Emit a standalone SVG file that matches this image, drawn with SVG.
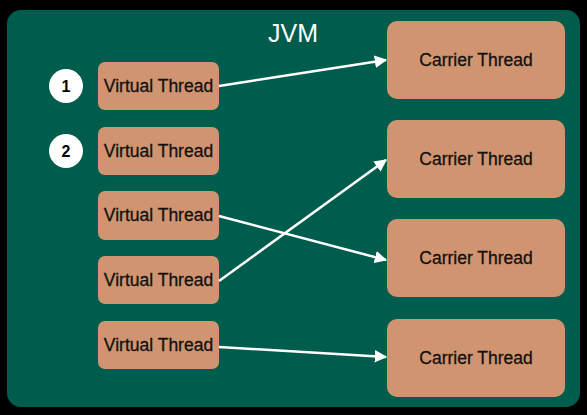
<svg xmlns="http://www.w3.org/2000/svg" width="587" height="415" viewBox="0 0 587 415">
<style>
.vt{fill:#d09570;stroke:none}
.ct{fill:#d09570;stroke:none}
.t{font-family:"Liberation Sans",Arial,sans-serif;font-size:17.5px;fill:#111;stroke:#111;stroke-width:0.3;text-anchor:middle;dominant-baseline:central}
.num{font-family:"Liberation Sans",Arial,sans-serif;font-size:16px;fill:#000;text-anchor:middle;dominant-baseline:central;font-weight:bold}
.c{stroke:#fff;stroke-width:2.5;fill:none;marker-end:url(#ah)}
</style>
<defs>
<marker id="ah" viewBox="0 0 10 10" refX="9" refY="5" markerWidth="5" markerHeight="5" orient="auto" markerUnits="strokeWidth">
<path d="M0,0 L10,5 L0,10 z" fill="#fff"/>
</marker>
</defs>
<rect x="0" y="0" width="587" height="415" fill="#000"/>
<g id="jvm">
<rect x="7" y="10" width="573" height="397" rx="14" fill="#005c4c"/>
<text x="293" y="33" font-family="Liberation Sans,Arial,sans-serif" font-size="25" fill="#fff" text-anchor="middle" dominant-baseline="central">JVM</text>
</g>
<g id="n1"><circle cx="66" cy="86" r="17" fill="#fff"/><text class="num" x="66" y="86">1</text></g>
<g id="n2"><circle cx="66" cy="151" r="17" fill="#fff"/><text class="num" x="66" y="151">2</text></g>
<g id="vt1"><rect class="vt" x="98" y="62" width="121" height="48" rx="7"/><text class="t" x="158.5" y="86">Virtual Thread</text></g>
<g id="vt2"><rect class="vt" x="98" y="127" width="121" height="48" rx="7"/><text class="t" x="158.5" y="151">Virtual Thread</text></g>
<g id="vt3"><rect class="vt" x="98" y="191" width="121" height="49" rx="7"/><text class="t" x="158.5" y="215">Virtual Thread</text></g>
<g id="vt4"><rect class="vt" x="98" y="256" width="121" height="48" rx="7"/><text class="t" x="158.5" y="280">Virtual Thread</text></g>
<g id="vt5"><rect class="vt" x="98" y="321" width="121" height="48" rx="7"/><text class="t" x="158.5" y="345">Virtual Thread</text></g>
<g id="ct1"><rect class="ct" x="387" y="21" width="178" height="78" rx="10"/><text class="t" x="476" y="60">Carrier Thread</text></g>
<g id="ct2"><rect class="ct" x="387" y="120" width="178" height="78" rx="10"/><text class="t" x="476" y="159">Carrier Thread</text></g>
<g id="ct3"><rect class="ct" x="387" y="219" width="178" height="78" rx="10"/><text class="t" x="476" y="258">Carrier Thread</text></g>
<g id="ct4"><rect class="ct" x="387" y="319" width="178" height="78" rx="10"/><text class="t" x="476" y="358">Carrier Thread</text></g>
<g id="connectors">
<line class="c" x1="219" y1="86" x2="386" y2="60"/>
<line class="c" x1="219" y1="216" x2="386" y2="260"/>
<line class="c" x1="219" y1="281" x2="386" y2="160"/>
<line class="c" x1="219" y1="347" x2="386" y2="357"/>
</g>
</svg>
